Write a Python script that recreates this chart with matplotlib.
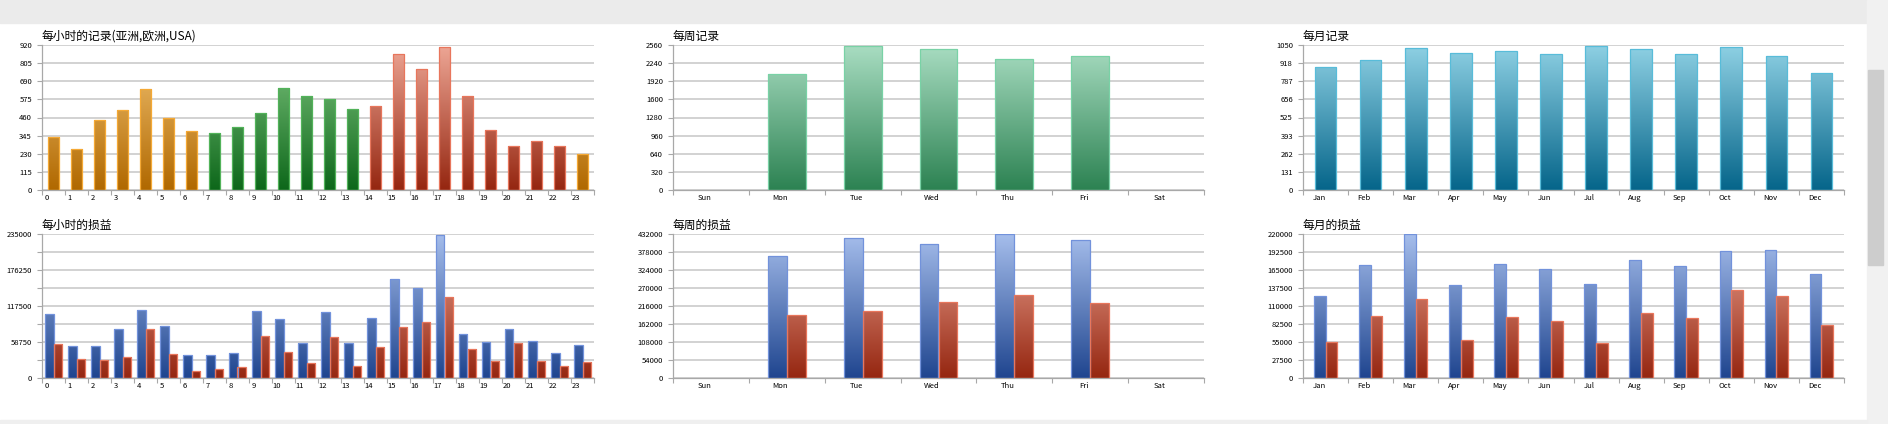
import numpy as np
import matplotlib
matplotlib.use('Agg')
import matplotlib.pyplot as plt
from matplotlib.colors import LinearSegmentedColormap
from matplotlib.patches import Rectangle
from matplotlib.transforms import ScaledTranslation

plt.rcParams['font.family'] = ['Noto Sans CJK SC', 'DejaVu Sans']

# 每小时 (0-23)
hours = [str(i) for i in range(24)]
hour_zone = ['asia'] * 7 + ['eu'] * 7 + ['usa'] * 9 + ['asia']
hour_records = [338, 258, 446, 508, 639, 455, 376, 362, 400, 489, 647, 598,
                577, 516, 535, 863, 770, 909, 597, 381, 278, 309, 277, 226]
hour_gain = [105000, 52700, 53000, 79300, 111500, 84200, 37700, 37100, 40400,
             110000, 95500, 56700, 108000, 57300, 98200, 161500, 146300,
             234000, 71300, 58300, 80200, 60300, 40900, 53300]
hour_loss = [55000, 30700, 29000, 34400, 79200, 38700, 10800, 14500, 17800,
             68000, 42000, 23700, 66300, 19900, 51300, 83700, 91700, 132800,
             47800, 28000, 56900, 27400, 18800, 26400]

# 每周
days = ['Sun', 'Mon', 'Tue', 'Wed', 'Thu', 'Fri', 'Sat']
day_records = [0, 2043, 2542, 2484, 2307, 2366, 0]
day_gain = [0, 367000, 420000, 403000, 431000, 414000, 0]
day_loss = [0, 188000, 200000, 227000, 250000, 224000, 0]

# 每月
months = ['Jan', 'Feb', 'Mar', 'Apr', 'May', 'Jun', 'Jul', 'Aug', 'Sep',
          'Oct', 'Nov', 'Dec']
month_records = [888, 944, 1028, 990, 1004, 985, 1043, 1021, 987, 1033, 970, 845]
month_gain = [125000, 173000, 219500, 142800, 174000, 166600, 143300, 180200,
              170500, 193800, 195800, 159000]
month_loss = [55400, 94800, 120400, 57400, 92500, 86800, 54000, 99000, 91400,
              134600, 125600, 81300]

# 颜色 (底部, 顶部, 边框)
grads = {
    'asia': ('#b06800', '#f4c474', '#f5a935'),
    'eu': ('#0d671a', '#80c680', '#52b35a'),
    'usa': ('#952610', '#eea796', '#e8765c'),
    'week': ('#2c8252', '#a9ddc2', '#79d2a6'),
    'month': ('#05658a', '#8fd1e4', '#58bcd9'),
    'gain': ('#1f458f', '#a6beec', '#7292db'),
    'loss': ('#952610', '#eea796', '#e8765c'),
}

W, H = 1888, 424
gray = '#a8a8a8'
fig = plt.figure(figsize=(W / 100, H / 100), dpi=100)

# 页面背景 (顶部条, 滚动条)
fig.patches.append(Rectangle((0, 1 - 23 / H), 1867 / W, 23 / H,
                             transform=fig.transFigure, color='#ebebeb', zorder=0))
fig.patches.append(Rectangle((1867 / W, 0), 21 / W, 1,
                             transform=fig.transFigure, color='#f1f1f1', zorder=0))
fig.patches.append(Rectangle((1868 / W, 1 - 265 / H), 15 / W, 195 / H,
                             transform=fig.transFigure, color='#cdcdcd', zorder=0))
fig.patches.append(Rectangle((0, 0), 1867 / W, 4 / H,
                             transform=fig.transFigure, color='#efefef', zorder=0))


def make_ax(l, r, t, b):
    return fig.add_axes([l / W, 1 - b / H, (r - l) / W, (b - t) / H])


def grad_bars(ax, x, h, w, key, ymax):
    bot, top, edge = grads[key]
    cmap = LinearSegmentedColormap.from_list(key, [bot, top])
    g = np.linspace(0, 1, 256).reshape(-1, 1)
    for xi, hi in zip(x, h):
        if hi <= 0:
            continue
        bar = ax.bar(xi, hi, w, facecolor='none', edgecolor=edge,
                     linewidth=0.9, zorder=3)[0]
        im = ax.imshow(g, cmap=cmap, origin='lower', aspect='auto',
                       extent=(xi - w / 2, xi + w / 2, 0, ymax), zorder=2,
                       interpolation='bilinear')
        im.set_clip_path(bar)


def setup(ax, labels, ymax, nstep, labelled, title):
    n = len(labels)
    ax.set_xlim(-0.5, n - 0.5)
    ax.set_ylim(0, ymax)
    ax.set_xticks(range(n))
    ax.set_xticklabels(labels)
    ax.set_xticks(np.arange(n + 1) - 0.5, minor=True)
    ax.tick_params(axis='x', which='major', length=0, pad=3, labelsize=5.5)
    ax.tick_params(axis='x', which='minor', length=3.6, color=gray, width=0.8)
    off = ScaledTranslation(-0.065, 0, fig.dpi_scale_trans)
    for lab in ax.get_xticklabels():
        lab.set_transform(lab.get_transform() + off)

    step = ymax / nstep
    ticks = [step * i for i in range(nstep + 1)]
    major = [v for i, v in enumerate(ticks) if i % labelled == 0]
    minor = [v for i, v in enumerate(ticks) if i % labelled != 0]
    ax.set_yticks(major)
    ax.set_yticklabels([str(int(v)) for v in major])
    ax.set_yticks(minor, minor=True)
    ax.tick_params(axis='y', which='both', length=3.6, pad=3.6, color=gray,
                   width=0.8, labelsize=5.5)
    ax.yaxis.grid(True, which='both', color='#c6c6c6', linewidth=1.1)
    ax.set_axisbelow(True)
    for s in ['top', 'right']:
        ax.spines[s].set_visible(False)
    for s in ['left', 'bottom']:
        ax.spines[s].set_color(gray)
        ax.spines[s].set_linewidth(0.9)
    ax.set_title(title, loc='left', fontsize=8.5, pad=4)


cols = [(42, 594), (673, 1204), (1303, 1844)]
row1 = (45, 190)
row2 = (234, 378)

# 记录
ax = make_ax(cols[0][0], cols[0][1], *row1)
for i in range(24):
    grad_bars(ax, [i], [hour_records[i]], 0.48, hour_zone[i], 920)
setup(ax, hours, 920, 8, 1, '每小时的记录(亚洲,欧洲,USA)')

ax = make_ax(cols[1][0], cols[1][1], *row1)
grad_bars(ax, range(7), day_records, 0.5, 'week', 2560)
setup(ax, days, 2560, 8, 1, '每周记录')

ax = make_ax(cols[2][0], cols[2][1], *row1)
grad_bars(ax, range(12), month_records, 0.48, 'month', 1050)
setup(ax, months, 1050, 8, 1, '每月记录')

# 损益
ax = make_ax(cols[0][0], cols[0][1], *row2)
x = np.arange(24)
grad_bars(ax, x - 0.19, hour_gain, 0.38, 'gain', 235000)
grad_bars(ax, x + 0.19, hour_loss, 0.38, 'loss', 235000)
setup(ax, hours, 235000, 8, 2, '每小时的损益')

ax = make_ax(cols[1][0], cols[1][1], *row2)
x = np.arange(7)
grad_bars(ax, x - 0.125, day_gain, 0.25, 'gain', 432000)
grad_bars(ax, x + 0.125, day_loss, 0.25, 'loss', 432000)
setup(ax, days, 432000, 8, 1, '每周的损益')

ax = make_ax(cols[2][0], cols[2][1], *row2)
x = np.arange(12)
grad_bars(ax, x - 0.13, month_gain, 0.26, 'gain', 220000)
grad_bars(ax, x + 0.13, month_loss, 0.26, 'loss', 220000)
setup(ax, months, 220000, 8, 1, '每月的损益')

fig.savefig('out.png', dpi=100)
